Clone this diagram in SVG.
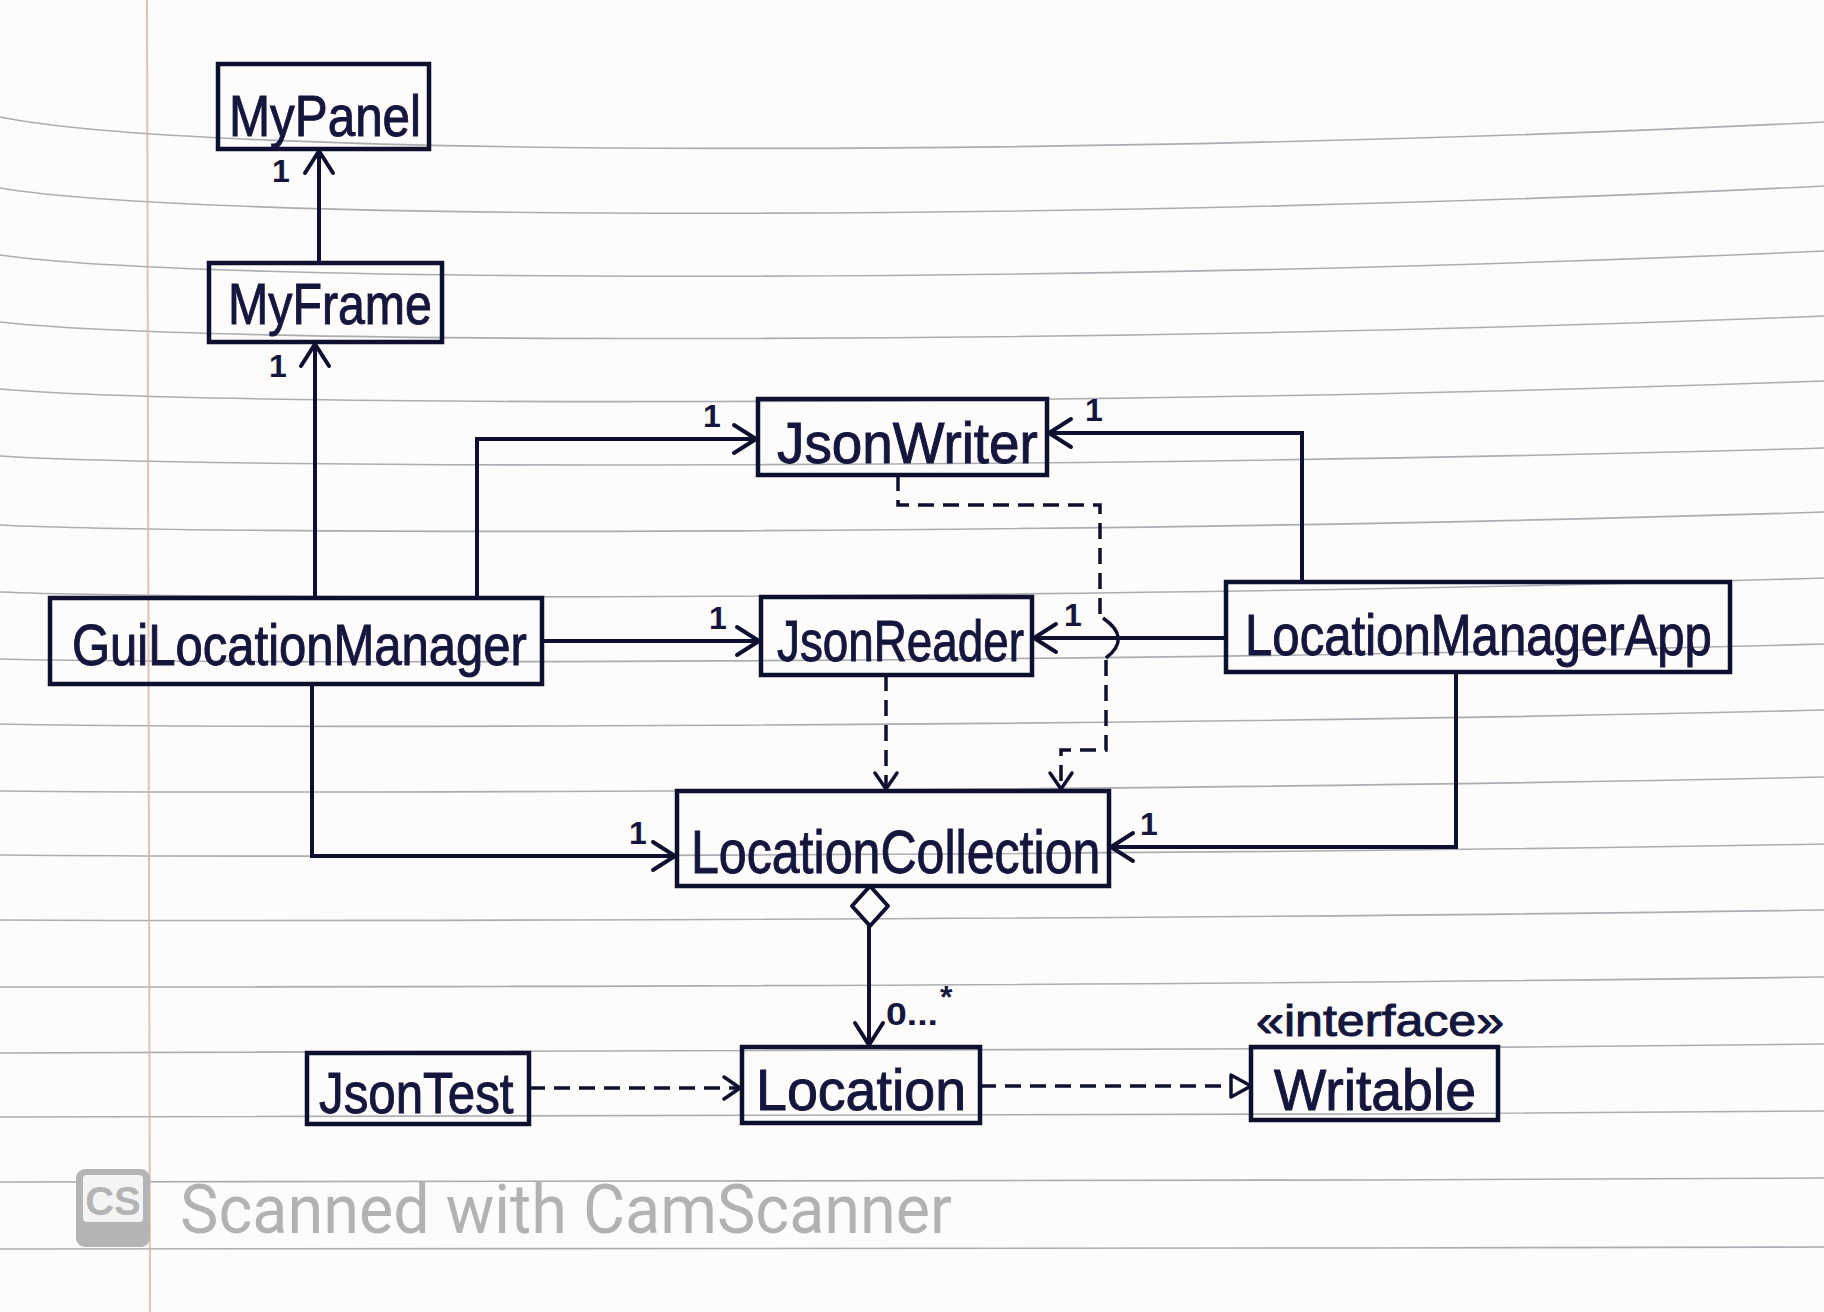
<svg xmlns="http://www.w3.org/2000/svg" width="1824" height="1312" viewBox="0 0 1824 1312">
<style>
.paper{fill:#fdfcfa}
.rule{fill:none;stroke:#8e949b;stroke-width:1.6;opacity:0.75}
.margin{stroke:#d9b3a8;stroke-width:2;opacity:0.8}
.box{fill:none;stroke:#0f1030;stroke-width:4.5}
.name{font-family:"Liberation Sans",Arial,sans-serif;font-size:58px;fill:#15163d;stroke:#15163d;stroke-width:1}
.mult{font-family:"Liberation Sans",Arial,sans-serif;font-size:32px;font-weight:bold;fill:#15163d}
.solid{fill:none;stroke:#0f1030;stroke-width:4}
.dash{fill:none;stroke:#0f1030;stroke-width:3.5;stroke-dasharray:16 9}
.wm{font-family:Roboto,"Liberation Sans",Arial,sans-serif;font-size:68px;fill:#b2b2b2}
</style>
<defs>
<marker id="open" markerUnits="userSpaceOnUse" markerWidth="40" markerHeight="40" viewBox="-30 -20 34 40" refX="0" refY="0" orient="auto">
<path d="M-22,-14 L0,0 L-22,14" fill="none" stroke="#0f1030" stroke-width="4" stroke-linecap="round" stroke-linejoin="round"/>
</marker>
<marker id="openS" markerUnits="userSpaceOnUse" markerWidth="40" markerHeight="40" viewBox="-30 -20 34 40" refX="0" refY="0" orient="auto">
<path d="M-16,-11 L0,0 L-16,11" fill="none" stroke="#0f1030" stroke-width="3.5" stroke-linecap="round" stroke-linejoin="round"/>
</marker>
<marker id="tri" markerUnits="userSpaceOnUse" markerWidth="40" markerHeight="40" viewBox="-30 -20 34 40" refX="0" refY="0" orient="auto">
<path d="M-20,-11 L0,0 L-20,11 Z" fill="#fdfcfa" stroke="#0f1030" stroke-width="3.5" stroke-linejoin="round"/>
</marker>
</defs>

<rect class="paper" x="0" y="0" width="1824" height="1312"/>

<g id="paper-lines">
<path class="rule" d="M0,117 C200,158 1100,158 1824,122"/>
<path class="rule" d="M0,188 C200,222 1100,222 1824,186"/>
<path class="rule" d="M0,255 C200,284 1100,284 1824,251"/>
<path class="rule" d="M0,322 C200,345 1100,345 1824,316"/>
<path class="rule" d="M0,389 C200,407 1100,407 1824,381"/>
<path class="rule" d="M0,456 C200,469 1100,469 1824,448"/>
<path class="rule" d="M0,525 C200,535 1100,535 1824,512"/>
<path class="rule" d="M0,592 C200,600 1100,600 1824,578"/>
<path class="rule" d="M0,659 C200,664 1100,664 1824,644"/>
<path class="rule" d="M0,724 C200,728 1100,728 1824,710"/>
<path class="rule" d="M0,791 C200,793 1100,793 1824,777"/>
<path class="rule" d="M0,855 C200,857 1100,857 1824,844"/>
<path class="rule" d="M0,920 C200,921 1100,921 1824,910"/>
<path class="rule" d="M0,987 C200,987 1100,987 1824,977"/>
<path class="rule" d="M0,1053 C200,1053 1100,1053 1824,1044"/>
<path class="rule" d="M0,1117 C200,1117 1100,1117 1824,1111"/>
<path class="rule" d="M0,1182 C200,1182 1100,1182 1824,1178"/>
<path class="rule" d="M0,1249 C200,1249 1100,1249 1824,1247"/>
<line class="margin" x1="147" y1="0" x2="150" y2="1312"/>
</g>

<g id="connectors">
<path class="solid" d="M319,263 V151" marker-end="url(#open)"/>
<path class="solid" d="M315,598 V344" marker-end="url(#open)"/>
<path class="solid" d="M477,598 V439 H756" marker-end="url(#open)"/>
<path class="solid" d="M542,641 H759" marker-end="url(#open)"/>
<path class="solid" d="M312,684 V856 H675" marker-end="url(#open)"/>
<path class="solid" d="M1302,582 V433 H1049" marker-end="url(#open)"/>
<path class="solid" d="M1226,638 H1034" marker-end="url(#open)"/>
<path class="solid" d="M1456,672 V847 H1111" marker-end="url(#open)"/>
<path class="dash" d="M898,475 V505 H1100 V618"/>
<path class="solid" style="stroke-width:3.5" d="M1103,618 Q1132,638 1106,658"/>
<path class="dash" d="M1106,660 V750 H1061 V789" marker-end="url(#openS)"/>
<path class="dash" d="M886,675 V789" marker-end="url(#openS)"/>
<path d="M870,886 L888,906 L870,926 L852,906 Z" fill="#fdfcfa" stroke="#0f1030" stroke-width="4" stroke-linejoin="round"/>
<path class="solid" d="M869,926 V1045" marker-end="url(#open)"/>
<path class="dash" d="M529,1088 H740" marker-end="url(#openS)"/>
<path class="dash" d="M980,1086 H1251" marker-end="url(#tri)"/>
</g>

<g id="labels">
<text class="mult" x="272" y="182">1</text>
<text class="mult" x="269" y="377">1</text>
<text class="mult" x="703" y="427">1</text>
<text class="mult" x="1085" y="421">1</text>
<text class="mult" x="709" y="629">1</text>
<text class="mult" x="1064" y="626">1</text>
<text class="mult" x="629" y="844">1</text>
<text class="mult" x="1140" y="835">1</text>
<text class="mult" x="886" y="1025" textLength="52" lengthAdjust="spacingAndGlyphs">0...</text>
<text class="mult" x="940" y="1008">*</text>
</g>

<g id="MyPanel">
<rect class="box" x="218" y="64" width="211" height="85"/>
<text class="name" transform="translate(229,136) scale(0.851,1)">MyPanel</text>
</g>
<g id="MyFrame">
<rect class="box" x="209" y="263" width="233" height="79"/>
<text class="name" transform="translate(228,324) scale(0.833,1)">MyFrame</text>
</g>
<g id="GuiLocationManager">
<rect class="box" x="50" y="598" width="492" height="86"/>
<text class="name" transform="translate(72,665) scale(0.845,1)">GuiLocationManager</text>
</g>
<g id="JsonWriter">
<rect class="box" x="758" y="399" width="289" height="76"/>
<text class="name" transform="translate(777,463) scale(0.945,1)">JsonWriter</text>
</g>
<g id="JsonReader">
<rect class="box" x="761" y="597" width="271" height="78"/>
<text class="name" transform="translate(777,661) scale(0.79,1)">JsonReader</text>
</g>
<g id="LocationManagerApp">
<rect class="box" x="1226" y="582" width="504" height="90"/>
<text class="name" transform="translate(1245,655) scale(0.847,1)">LocationManagerApp</text>
</g>
<g id="LocationCollection">
<rect class="box" x="677" y="791" width="432" height="95"/>
<text class="name" transform="translate(691,873) scale(0.808,1)" style="font-size:62px">LocationCollection</text>
</g>
<g id="JsonTest">
<rect class="box" x="307" y="1053" width="222" height="71"/>
<text class="name" transform="translate(319,1113) scale(0.85,1)">JsonTest</text>
</g>
<g id="Location">
<rect class="box" x="742" y="1047" width="238" height="76"/>
<text class="name" transform="translate(756,1110) scale(0.958,1)">Location</text>
</g>
<g id="Writable">
<rect class="box" x="1251" y="1047" width="247" height="73"/>
<text class="name" transform="translate(1274,1110) scale(0.954,1)">Writable</text>
<text class="name" transform="translate(1256,1036) scale(1.14,1)" style="font-size:44px">«interface»</text>
</g>

<g id="watermark">
<rect x="76" y="1169" width="74" height="78" rx="9" fill="#b4b4b4"/>
<rect x="83" y="1175" width="60" height="47" rx="4" fill="#f4f4f4"/>
<text x="113" y="1215" text-anchor="middle" style="font-family:'Liberation Sans',Arial,sans-serif;font-size:40px;font-weight:bold;fill:#b4b4b4">CS</text>
<text class="wm" x="180" y="1233" textLength="772" lengthAdjust="spacingAndGlyphs">Scanned with CamScanner</text>
</g>
</svg>
